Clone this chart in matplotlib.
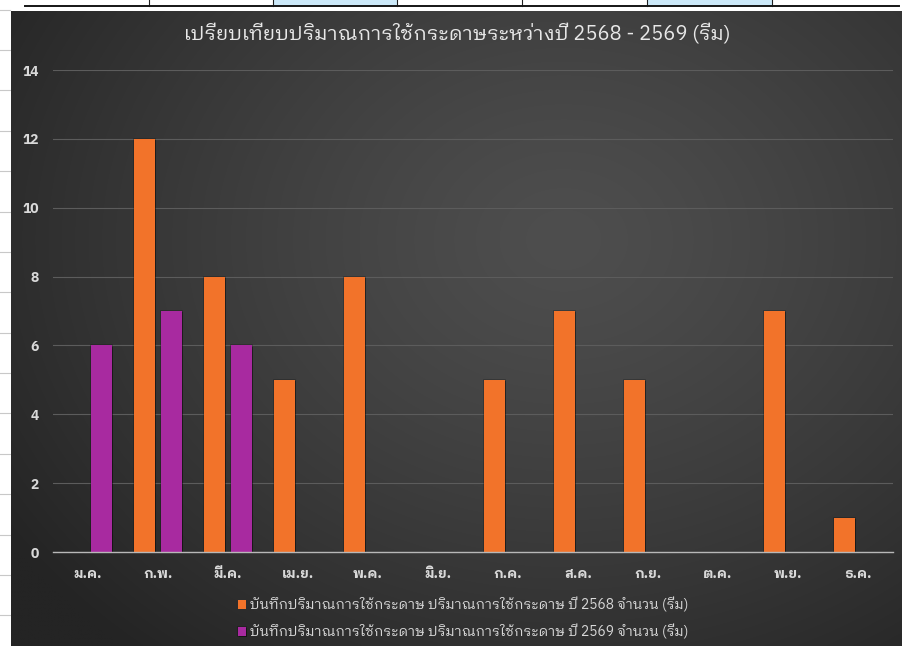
import numpy as np
import matplotlib
matplotlib.use("Agg")
import matplotlib.pyplot as plt
from matplotlib import font_manager
from matplotlib.ft2font import FT2Font
from matplotlib.patches import Rectangle
import matplotlib.patheffects as pe

# ---------------- data ----------------
months = ['ม.ค.', 'ก.พ.', 'มี.ค.', 'เม.ย.', 'พ.ค.', 'มิ.ย.',
          'ก.ค.', 'ส.ค.', 'ก.ย.', 'ต.ค.', 'พ.ย.', 'ธ.ค.']
usage_2568 = [0, 12, 8, 5, 8, 0, 5, 7, 5, 0, 7, 1]
usage_2569 = [6, 7, 6, 0, 0, 0, 0, 0, 0, 0, 0, 0]
label_2568 = 'บันทึกปริมาณการใช้กระดาษ ปริมาณการใช้กระดาษ ปี 2568 จำนวน (รีม)'
label_2569 = 'บันทึกปริมาณการใช้กระดาษ ปริมาณการใช้กระดาษ ปี 2569 จำนวน (รีม)'
title = 'เปรียบเทียบปริมาณการใช้กระดาษระหว่างปี 2568 - 2569 (รีม)'
yticks = [0, 2, 4, 6, 8, 10, 12, 14]


# ---------------- font with Thai glyphs ----------------
def thai_fonts():
    found = []
    seen = set()
    for f in font_manager.fontManager.ttflist:
        if f.name in seen:
            continue
        try:
            cm = FT2Font(f.fname).get_charmap()
        except Exception:
            continue
        if 0x0E01 in cm and 0x0E35 in cm and 0x0E21 in cm:
            found.append(f.name)
            seen.add(f.name)
    found.sort(key=lambda n: (0 if 'Thai' in n else 1, 0 if 'Looped' in n else 1, n))
    return found

tf = thai_fonts()
families = (tf[:1] if tf else []) + ['DejaVu Sans']
plt.rcParams['font.family'] = families

W, H = 903, 646
fig = plt.figure(figsize=(W / 100, H / 100), dpi=100)
fig.patch.set_facecolor('white')

# ---------------- spreadsheet surroundings ----------------
bg = fig.add_axes([0, 0, 1, 1])
bg.set_xlim(0, W)
bg.set_ylim(H, 0)
bg.axis('off')
for x0, x1 in [(273, 397), (647, 772)]:
    bg.add_patch(Rectangle((x0, 0), x1 - x0, 5.5, facecolor='#cbe8f8', edgecolor='none'))
for x in [149, 273, 397, 522, 647, 772]:
    bg.plot([x, x], [0, 6], color='#202020', lw=0.8)
bg.plot([25, 899], [6, 6], color='#151515', lw=1.4)
for k in range(-1, 15):
    y = 50 + k * 40.38
    bg.plot([0, 10], [y, y], color='#c8c8c8', lw=0.8)

# ---------------- chart area gradient ----------------
cx0, cy0 = 11, 11
chart = fig.add_axes([cx0 / W, 0, (W - cx0) / W, (H - cy0) / H])
chart.axis('off')
nx, ny = 400, 300
xx, yy = np.meshgrid(np.linspace(0, 1, nx), np.linspace(0, 1, ny))
d = np.sqrt(((xx - 0.62) / 0.75) ** 2 + ((yy - 0.36) / 0.85) ** 2)
val = 0x4e - (0x4e - 0x24) * np.clip(d, 0, 1) ** 1.3
img = np.dstack([val, val, val]) / 255.0
chart.imshow(img, extent=[0, 1, 1, 0], aspect='auto', interpolation='bilinear')
chart.set_xlim(0, 1)
chart.set_ylim(1, 0)

# ---------------- plot axes ----------------
left, right, ybot, ytop = 53, 893, 552, 70
ax = fig.add_axes([left / W, (H - ybot) / H, (right - left) / W, (ybot - ytop) / H])
ax.patch.set_alpha(0)
x = np.arange(len(months))
bw = 0.30
off = 0.193
shadow = [pe.SimplePatchShadow(offset=(0.8, -0.8), shadow_rgbFace='black', alpha=0.35),
          pe.Stroke(linewidth=1.2, foreground=(0, 0, 0, 0.25)), pe.Normal()]
b1 = ax.bar(x - off, usage_2568, width=bw, color='#f2732a', label=label_2568, zorder=3)
b2 = ax.bar(x + off, usage_2569, width=bw, color='#a82aa0', label=label_2569, zorder=3)
for r in list(b1) + list(b2):
    if r.get_height() > 0:
        r.set_path_effects(shadow)

ax.set_xlim(-0.5, len(months) - 0.5)
ax.set_ylim(0, 14)
ax.set_yticks(yticks)
ax.yaxis.grid(True, color='#5c5c5c', lw=0.8, zorder=0)
ax.set_axisbelow(True)
for s in ['top', 'right', 'left']:
    ax.spines[s].set_visible(False)
ax.spines['bottom'].set_color('#b8b8b8')
ax.spines['bottom'].set_linewidth(1.0)
ax.spines['bottom'].set_zorder(4)
ax.set_xticks(x)
ax.set_xticklabels(months)
ax.tick_params(axis='x', length=0, pad=11, labelsize=10, labelcolor='#d9d9d9')
ax.tick_params(axis='y', length=0, pad=10, labelsize=10, labelcolor='#d9d9d9')
for t in ax.get_yticklabels():
    t.set_fontweight('bold')
for t in ax.get_xticklabels():
    t.set_fontweight('bold')

fig.text(457 / W, 1 - 33 / H, title, ha='center', va='center', fontsize=14.5, color='#e8e8e8')

leg = fig.legend(handles=[b1, b2], labels=[label_2568, label_2569],
                 loc='center', bbox_to_anchor=(463 / W, 1 - 618 / H), ncol=1,
                 frameon=False, fontsize=10, labelcolor='#d9d9d9',
                 handlelength=0.6, handleheight=0.6, handletextpad=0.3,
                 labelspacing=0.85)

fig.savefig('out.png', dpi=100, facecolor='white')
